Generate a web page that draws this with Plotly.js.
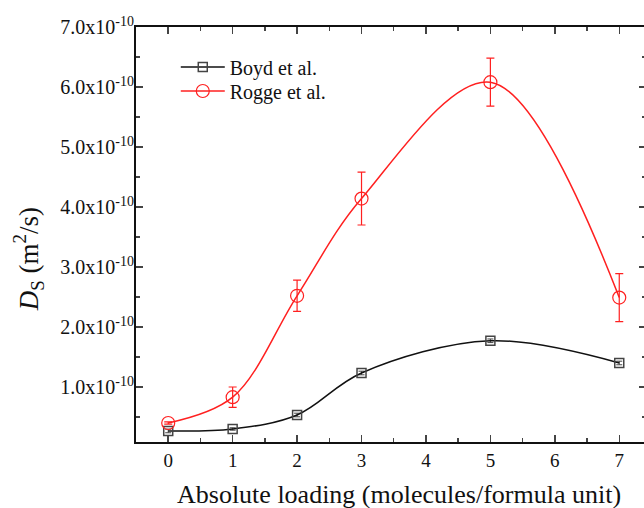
<!DOCTYPE html>
<html><head><meta charset="utf-8">
<script src="https://cdn.plot.ly/plotly-3.0.1.min.js"></script>
<style>html,body{margin:0;padding:0;overflow:hidden;background:#fff}</style>
</head><body>
<div id="chart"></div>
<script>
const loading = [0, 1, 2, 3, 5, 7];
const boydDs = [0.267e-10, 0.30e-10, 0.533e-10, 1.233e-10, 1.77e-10, 1.40e-10];
const boydErr = [0.03e-10, 0.02e-10, 0.03e-10, 0.03e-10, 0.03e-10, 0.03e-10];
const roggeDs = [0.40e-10, 0.83e-10, 2.52e-10, 4.14e-10, 6.08e-10, 2.49e-10];
const roggeErr = [0.02e-10, 0.17e-10, 0.26e-10, 0.44e-10, 0.40e-10, 0.40e-10];
const yTickVals = [1e-10, 2e-10, 3e-10, 4e-10, 5e-10, 6e-10, 7e-10];
const yTickText = ['1.0x10<sup>-10</sup>','2.0x10<sup>-10</sup>','3.0x10<sup>-10</sup>','4.0x10<sup>-10</sup>','5.0x10<sup>-10</sup>','6.0x10<sup>-10</sup>','7.0x10<sup>-10</sup>'];
const xTickVals = [0,1,2,3,4,5,6,7];
const yTitle = '<i>D</i><sub>S</sub> (m<sup>2</sup>/s)';
const xTitle = 'Absolute loading (molecules/formula unit)';

const font = '"Liberation Serif", "Times New Roman", serif';
const traces = [
  {x: loading, y: boydDs, name: 'Boyd et al.', type: 'scatter', mode: 'lines+markers', legend: 'legend',
   line: {color: '#111', width: 1.5, shape: 'spline', smoothing: 1},
   marker: {symbol: 'square-open', size: 9, color: '#444', line: {width: 1.5}},
   error_y: {type: 'data', array: boydErr, visible: true, color: '#444', thickness: 1, width: 3}},
  {x: loading, y: roggeDs, name: 'Rogge et al.', type: 'scatter', mode: 'lines+markers', legend: 'legend2',
   line: {color: '#ff2020', width: 1.5, shape: 'spline', smoothing: 1},
   marker: {symbol: 'circle-open', size: 13, color: '#ff2020', line: {width: 1.2}},
   error_y: {type: 'data', array: roggeErr, visible: true, color: '#ff2020', thickness: 1.2, width: 4}}
];
const legendBase = {x: 0.078, xanchor: 'left', yanchor: 'middle', bgcolor: 'rgba(0,0,0,0)',
                    font: {family: font, size: 20}, itemwidth: 44};
const layout = {
  width: 650, height: 508,
  margin: {l: 136, r: 4, t: 27, b: 66},
  paper_bgcolor: '#fff', plot_bgcolor: '#fff',
  font: {family: font, color: '#111', size: 19},
  showlegend: true,
  legend: Object.assign({}, legendBase, {y: 0.9036}),
  legend2: Object.assign({}, legendBase, {y: 0.8458}),
  xaxis: {range: [-0.5, 7.415], tickvals: xTickVals, ticks: 'inside', ticklen: 7, tickwidth: 1.5,
          showline: true, linewidth: 2, linecolor: '#111', mirror: 'ticks', showgrid: false, zeroline: false,
          minor: {dtick: 0.5, tick0: 0, ticks: 'inside', ticklen: 4, tickwidth: 1.5, showgrid: false},
          tickfont: {family: font, size: 19}},
  yaxis: {range: [0.083e-10, 7.0e-10], tickvals: yTickVals, ticktext: yTickText, ticks: 'inside', ticklen: 7, tickwidth: 1.5,
          showline: true, linewidth: 2, linecolor: '#111', mirror: 'ticks', showgrid: false, zeroline: false,
          minor: {dtick: 0.5e-10, tick0: 0, ticks: 'inside', ticklen: 4, tickwidth: 1.5, showgrid: false},
          tickfont: {family: font, size: 20}, ticklabelstandoff: -4},
  annotations: [
    {text: yTitle, xref: 'paper', yref: 'paper', x: -0.21, y: 0.44, xanchor: 'center', yanchor: 'middle',
     textangle: -90, showarrow: false, font: {family: font, size: 27}},
    {text: xTitle, xref: 'paper', yref: 'paper', x: 0.5157, y: -0.127, xanchor: 'center', yanchor: 'middle',
     showarrow: false, font: {family: font, size: 26}}
  ]
};
Plotly.newPlot('chart', traces, layout, {displayModeBar: false, staticPlot: true});
</script>
</body></html>
